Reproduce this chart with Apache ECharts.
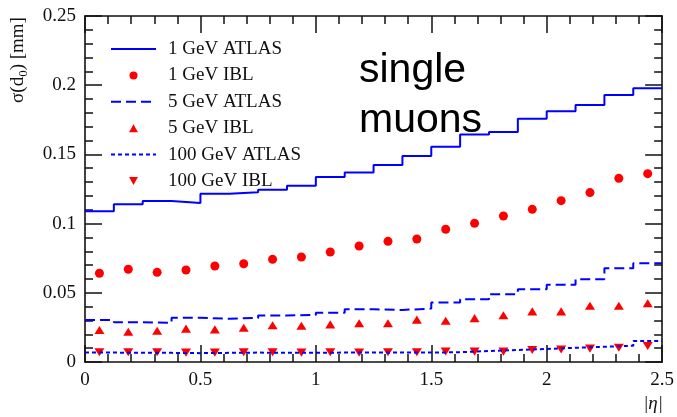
<!DOCTYPE html>
<html>
<head>
<meta charset="utf-8">
<script src="https://cdn.jsdelivr.net/npm/echarts@6/dist/echarts.min.js"></script>
<style>
  html, body { margin: 0; padding: 0; background: #fff; }
  #chart { width: 677px; height: 417px; }
</style>
</head>
<body>
<div id="chart"></div>
<script>
// |eta| bin edges (20 bins of 0.125)
const etaEdges = [0, 0.125, 0.25, 0.375, 0.5, 0.625, 0.75, 0.875, 1.0, 1.125,
  1.25, 1.375, 1.5, 1.625, 1.75, 1.875, 2.0, 2.125, 2.25, 2.375, 2.5];

// sigma(d0) [mm] per bin
const atlas1GeV = [0.109, 0.114, 0.1163, 0.1149, 0.1216, 0.1226, 0.1245, 0.1274, 0.1336, 0.137,
  0.1423, 0.1488, 0.1556, 0.1643, 0.1662, 0.1758, 0.1811, 0.1857, 0.1929, 0.1978];
const ibl1GeV = [0.0641, 0.067, 0.0648, 0.0665, 0.0694, 0.071, 0.0742, 0.0759, 0.0795, 0.0838,
  0.0872, 0.0889, 0.0959, 0.1002, 0.1055, 0.1103, 0.1166, 0.1224, 0.1327, 0.1361];
const atlas5GeV = [0.0303, 0.0288, 0.0283, 0.032, 0.0313, 0.0318, 0.0336, 0.034, 0.0355, 0.0381,
  0.0376, 0.0386, 0.043, 0.0454, 0.049, 0.0526, 0.0559, 0.0598, 0.0677, 0.0713];
const ibl5GeV = [0.0231, 0.0219, 0.0226, 0.0241, 0.0236, 0.0247, 0.0265, 0.0262, 0.0272, 0.028,
  0.028, 0.0306, 0.0298, 0.0317, 0.0338, 0.0366, 0.0366, 0.0406, 0.0406, 0.0424];
const atlas100GeV = [0.0068, 0.0066, 0.0066, 0.0064, 0.0066, 0.0068, 0.0066, 0.0066, 0.0068, 0.0068,
  0.0068, 0.0068, 0.0071, 0.0079, 0.0087, 0.0094, 0.0103, 0.011, 0.0118, 0.0152];
const ibl100GeV = [0.007, 0.007, 0.007, 0.0068, 0.0068, 0.007, 0.007, 0.0068, 0.007, 0.0068,
  0.007, 0.007, 0.0076, 0.0075, 0.0075, 0.0087, 0.009, 0.0097, 0.0103, 0.0116];

const xTicks = [0, 0.5, 1, 1.5, 2, 2.5];
const yTicks = [0, 0.05, 0.1, 0.15, 0.2, 0.25];

const seriesNames = ['1 GeV ATLAS', '1 GeV IBL', '5 GeV ATLAS', '5 GeV IBL', '100 GeV ATLAS', '100 GeV IBL'];

const SERIF = 'Liberation Serif';
const BLUE = '#0000ff';
const RED = '#ff0000';

// marker shapes
const TRI_UP = 'path://M5,0 L10,9 L0,9 Z';
const TRI_DOWN = 'path://M0,0 L10,0 L5,9 Z';

// histogram outline: one point per left edge, plus the closing right edge
function stepData(vals) {
  return etaEdges.map((e, i) => [e, vals[Math.min(i, vals.length - 1)]]);
}
// markers at bin centres
function pointData(vals) {
  return vals.map((v, i) => [(etaEdges[i] + etaEdges[i + 1]) / 2, v]);
}

function axisBase(isX, showLabels) {
  return {
    type: 'value',
    min: isX ? xTicks[0] : yTicks[0],
    max: isX ? xTicks[xTicks.length - 1] : yTicks[yTicks.length - 1],
    interval: isX ? 0.5 : 0.05,
    axisLine: { show: true, onZero: false, lineStyle: { color: '#111', width: 1.6 } },
    axisTick: { show: true, inside: true, length: 17, lineStyle: { color: '#111', width: 1.5 } },
    minorTick: { show: true, splitNumber: 5, length: 8, lineStyle: { color: '#111', width: 1.5 } },
    splitLine: { show: false },
    minorSplitLine: { show: false },
    axisLabel: {
      show: showLabels,
      color: '#111',
      fontFamily: SERIF,
      fontSize: 19,
      margin: isX ? 9 : 9
    }
  };
}

// legend rows: line entries show only their stroke, marker entries a single shape
const hiddenMarker = { color: 'rgba(0,0,0,0)', borderColor: 'rgba(0,0,0,0)', borderWidth: 0, opacity: 0 };
const legendRows = [
  { name: seriesNames[0], itemStyle: hiddenMarker },
  { name: seriesNames[1], icon: 'circle' },
  { name: seriesNames[2], itemStyle: hiddenMarker },
  { name: seriesNames[3], icon: TRI_UP },
  { name: seriesNames[4], itemStyle: hiddenMarker },
  { name: seriesNames[5], icon: TRI_DOWN }
];

const chart = echarts.init(document.getElementById('chart'), null, { renderer: 'canvas' });

chart.setOption({
  animation: false,
  backgroundColor: '#fff',
  grid: { left: 85, right: 14, top: 16, bottom: 55, containLabel: false },
  xAxis: [
    Object.assign(axisBase(true, true), { position: 'bottom' }),
    Object.assign(axisBase(true, false), { position: 'top' })
  ],
  yAxis: [
    Object.assign(axisBase(false, true), { position: 'left' }),
    Object.assign(axisBase(false, false), { position: 'right' })
  ],
  legend: {
    orient: 'vertical',
    left: 110,
    top: 39,
    padding: 0,
    itemWidth: 45,
    itemHeight: 8,
    itemGap: 6.4,
    symbolKeepAspect: true,
    selectedMode: false,
    textStyle: { fontFamily: SERIF, fontSize: 19, color: '#111', lineHeight: 20, padding: [0, 0, 0, 7] },
    data: legendRows
  },
  graphic: [
    {
      type: 'text',
      x: 18, y: 60,
      rotation: Math.PI / 2,
      style: {
        text: 'σ(d{sub|0}) [mm]',
        fontFamily: SERIF, fontSize: 19, fill: '#111',
        align: 'center', verticalAlign: 'middle',
        rich: {
          sub: { fontFamily: SERIF, fontSize: 13, fill: '#111', verticalAlign: 'bottom', lineHeight: 24 }
        }
      }
    },
    {
      type: 'text',
      x: 663, y: 404,
      style: {
        text: '|η|',
        fontFamily: SERIF, fontSize: 19, fill: '#111', fontStyle: 'italic',
        align: 'right', verticalAlign: 'middle'
      }
    },
    {
      type: 'text',
      x: 359, y: 71,
      style: { text: 'single', fontFamily: 'Liberation Sans', fontSize: 41, fill: '#000', align: 'left', verticalAlign: 'middle' }
    },
    {
      type: 'text',
      x: 359, y: 121,
      style: { text: 'muons', fontFamily: 'Liberation Sans', fontSize: 41, fill: '#000', align: 'left', verticalAlign: 'middle' }
    }
  ],
  series: [
    {
      name: seriesNames[0], type: 'line', step: 'end', symbol: 'none',
      lineStyle: { color: BLUE, width: 2 }, itemStyle: { color: BLUE },
      data: stepData(atlas1GeV)
    },
    {
      name: seriesNames[2], type: 'line', step: 'end', symbol: 'none',
      lineStyle: { color: BLUE, width: 2, type: [10, 5] }, itemStyle: { color: BLUE },
      data: stepData(atlas5GeV)
    },
    {
      name: seriesNames[4], type: 'line', step: 'end', symbol: 'none',
      lineStyle: { color: BLUE, width: 2, type: [4, 3] }, itemStyle: { color: BLUE },
      data: stepData(atlas100GeV)
    },
    {
      name: seriesNames[1], type: 'scatter', symbol: 'circle', symbolSize: 9,
      itemStyle: { color: RED, opacity: 1 },
      data: pointData(ibl1GeV)
    },
    {
      name: seriesNames[3], type: 'scatter', symbol: TRI_UP, symbolSize: [10, 9], symbolKeepAspect: true,
      itemStyle: { color: RED, opacity: 1 },
      data: pointData(ibl5GeV)
    },
    {
      name: seriesNames[5], type: 'scatter', symbol: TRI_DOWN, symbolSize: [10, 9], symbolKeepAspect: true,
      itemStyle: { color: RED, opacity: 1 },
      data: pointData(ibl100GeV)
    }
  ]
});
</script>
</body>
</html>
